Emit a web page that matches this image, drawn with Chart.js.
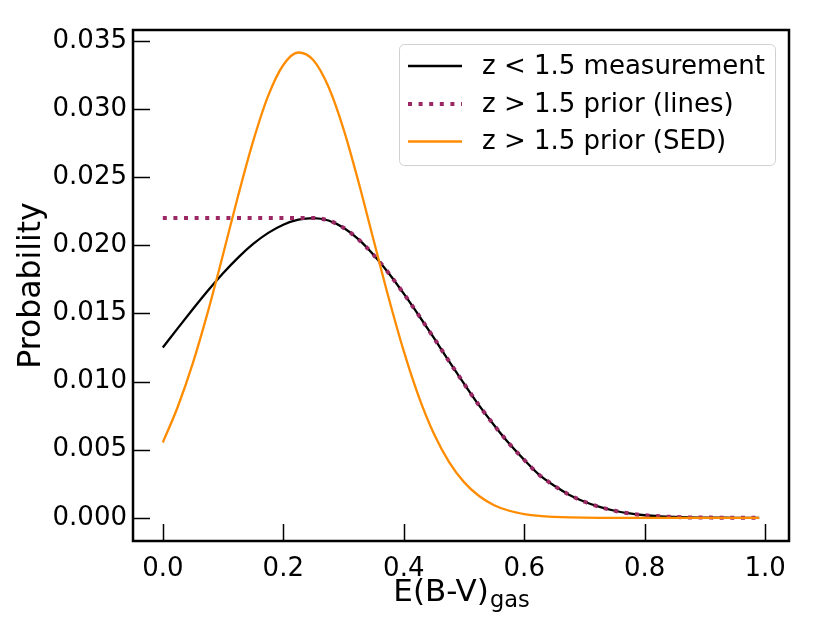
<!DOCTYPE html>
<html>
<head>
<meta charset="utf-8">
<script src="https://cdn.jsdelivr.net/npm/chart.js@4.4.1/dist/chart.umd.min.js"></script>
<style>
  html, body { margin: 0; padding: 0; background: #fff; }
</style>
</head>
<body>
<canvas id="chart" width="830" height="623"></canvas>
<script>
// E(B-V)_gas sample points
var ebv = [0, 0.025, 0.05, 0.075, 0.1, 0.125, 0.15, 0.175, 0.2, 0.225,
  0.25, 0.275, 0.3, 0.325, 0.35, 0.375, 0.4, 0.425, 0.45, 0.475,
  0.5, 0.525, 0.55, 0.575, 0.6, 0.625, 0.65, 0.675, 0.7, 0.725,
  0.75, 0.775, 0.8, 0.825, 0.85, 0.875, 0.9, 0.925, 0.95, 0.975, 0.99];

// z < 1.5 measurement
var measurement = [0.01250, 0.01392, 0.01532, 0.01668, 0.01795, 0.01910, 0.02010, 0.02091, 0.02151, 0.02188,
  0.02200, 0.02182, 0.02129, 0.02043, 0.01929, 0.01795, 0.01645, 0.01485, 0.01320, 0.01150,
  0.00985, 0.00825, 0.00680, 0.00545, 0.00425, 0.00315, 0.00235, 0.00168, 0.00118, 0.00080,
  0.00052, 0.00032, 0.00019, 0.00011, 0.00006, 0.00003, 0.00002, 0.00001, 0, 0, 0];

// z > 1.5 prior (lines): flat below the peak, then follows the measurement
var priorLines = [0.02200, 0.02200, 0.02200, 0.02200, 0.02200, 0.02200, 0.02200, 0.02200, 0.02200, 0.02200,
  0.02200, 0.02182, 0.02129, 0.02043, 0.01929, 0.01795, 0.01645, 0.01485, 0.01320, 0.01150,
  0.00985, 0.00825, 0.00680, 0.00545, 0.00425, 0.00315, 0.00235, 0.00168, 0.00118, 0.00080,
  0.00052, 0.00032, 0.00019, 0.00011, 0.00006, 0.00003, 0.00002, 0.00001, 0, 0, 0];

// z > 1.5 prior (SED)
var priorSed = [0.00553, 0.00817, 0.01137, 0.01515, 0.01933, 0.02363, 0.02764, 0.03098, 0.03323, 0.03415,
  0.03358, 0.03163, 0.02853, 0.02463, 0.02037, 0.01613, 0.01223, 0.00888, 0.00617, 0.00411,
  0.00262, 0.00160, 0.00093, 0.00052, 0.00028, 0.00014, 0.00007, 0.00003, 0.00001, 0,
  0, 0, 0, 0, 0, 0, 0, 0, 0, 0, 0];

var seriesNames = ['z < 1.5 measurement', 'z > 1.5 prior (lines)', 'z > 1.5 prior (SED)'];

var xTicks = [0, 0.2, 0.4, 0.6, 0.8, 1.0];
var xTickLabels = ['0.0', '0.2', '0.4', '0.6', '0.8', '1.0'];
var yTicks = [0, 0.005, 0.01, 0.015, 0.02, 0.025, 0.03, 0.035];
var yTickLabels = ['0.000', '0.005', '0.010', '0.015', '0.020', '0.025', '0.030', '0.035'];

var FONT = 'DejaVu Sans';

function pts(ys) {
  return ebv.map((x, i) => ({ x: x, y: ys[i] }));
}

// frame, inward ticks, subscripted x title and boxed legend
var decor = {
  id: 'decor',
  afterDraw(chart) {
    var ctx = chart.ctx;
    var a = chart.chartArea;
    var xs = chart.scales.x, ys = chart.scales.y;
    ctx.save();

    ctx.strokeStyle = '#000';
    ctx.lineWidth = 1.5;
    xTicks.forEach(v => {
      var px = Math.round(xs.getPixelForValue(v)) + 0.5;
      ctx.beginPath(); ctx.moveTo(px, a.bottom); ctx.lineTo(px, a.bottom - 17); ctx.stroke();
    });
    yTicks.forEach(v => {
      var py = Math.round(ys.getPixelForValue(v)) + 0.5;
      ctx.beginPath(); ctx.moveTo(a.left, py); ctx.lineTo(a.left + 17, py); ctx.stroke();
    });

    ctx.lineWidth = 2.5;
    ctx.strokeRect(a.left, a.top, a.right - a.left, a.bottom - a.top);

    // x title with subscript
    var main = 'E(B-V)', sub = 'gas';
    ctx.fillStyle = '#000';
    ctx.textBaseline = 'alphabetic';
    ctx.textAlign = 'left';
    ctx.font = '31px "' + FONT + '"';
    var w1 = ctx.measureText(main).width;
    ctx.font = '22.5px "' + FONT + '"';
    var w2 = ctx.measureText(sub).width;
    var sx = (a.left + a.right) / 2 - (w1 + w2) / 2;
    ctx.font = '31px "' + FONT + '"';
    ctx.fillText(main, sx, 601);
    ctx.font = '22.5px "' + FONT + '"';
    ctx.fillText(sub, sx + w1 + 1, 607);

    // legend
    var bx = 399.5, by = 44.5, bw = 376, bh = 121, r = 5;
    ctx.beginPath();
    ctx.moveTo(bx + r, by);
    ctx.arcTo(bx + bw, by, bx + bw, by + bh, r);
    ctx.arcTo(bx + bw, by + bh, bx, by + bh, r);
    ctx.arcTo(bx, by + bh, bx, by, r);
    ctx.arcTo(bx, by, bx + bw, by, r);
    ctx.closePath();
    ctx.fillStyle = 'rgba(255,255,255,0.8)';
    ctx.fill();
    ctx.strokeStyle = '#d0d0d0';
    ctx.lineWidth = 1;
    ctx.stroke();

    var rows = [66, 104, 141.5];
    chart.data.datasets.forEach((ds, i) => {
      ctx.save();
      ctx.strokeStyle = ds.borderColor;
      ctx.lineWidth = ds.borderWidth;
      ctx.setLineDash(ds.borderDash || []);
      ctx.beginPath(); ctx.moveTo(408, rows[i]); ctx.lineTo(462, rows[i]); ctx.stroke();
      ctx.restore();
      ctx.fillStyle = '#000';
      ctx.font = '26px "' + FONT + '"';
      ctx.textBaseline = 'middle';
      ctx.fillText(seriesNames[i], 482, rows[i] + 1);
    });
    ctx.restore();
  }
};

var chart = new Chart(document.getElementById('chart').getContext('2d'), {
  type: 'line',
  data: {
    datasets: [
      { label: seriesNames[0], data: pts(measurement), borderColor: '#000000', borderWidth: 2.3, order: 3,
        pointRadius: 0, cubicInterpolationMode: 'monotone', fill: false },
      { label: seriesNames[1], data: pts(priorLines), borderColor: '#9b2864', borderWidth: 4, order: 2,
        borderDash: [4, 6.6], borderCapStyle: 'butt', pointRadius: 0, cubicInterpolationMode: 'monotone', fill: false },
      { label: seriesNames[2], data: pts(priorSed), borderColor: '#ff8c00', borderWidth: 2.3, order: 1,
        pointRadius: 0, cubicInterpolationMode: 'monotone', fill: false }
    ]
  },
  options: {
    responsive: false,
    animation: false,
    layout: { padding: { left: 0, top: 30, right: 41, bottom: 0 } },
    plugins: { legend: { display: false }, tooltip: { enabled: false } },
    scales: {
      x: {
        type: 'linear', min: -0.0495, max: 1.0395,
        grid: { display: false, drawTicks: false }, border: { display: false },
        afterBuildTicks: s => { s.ticks = xTicks.map(v => ({ value: v })); },
        afterFit: s => { s.height = 82; },
        ticks: { autoSkip: false, maxRotation: 0, padding: 13, color: '#000',
          font: { family: FONT, size: 26 }, callback: (v, i) => xTickLabels[i] }
      },
      y: {
        type: 'linear', min: -0.0017, max: 0.0358,
        grid: { display: false, drawTicks: false }, border: { display: false },
        afterBuildTicks: s => { s.ticks = yTicks.map(v => ({ value: v })); },
        afterFit: s => { s.width = 133; },
        title: { display: true, text: 'Probability', color: '#000',
          font: { family: FONT, size: 31.5 }, padding: { top: 13, bottom: 0 } },
        ticks: { padding: 6, color: '#000',
          font: { family: FONT, size: 26 }, callback: (v, i) => yTickLabels[i] }
      }
    }
  },
  plugins: [decor]
});
</script>
</body>
</html>
